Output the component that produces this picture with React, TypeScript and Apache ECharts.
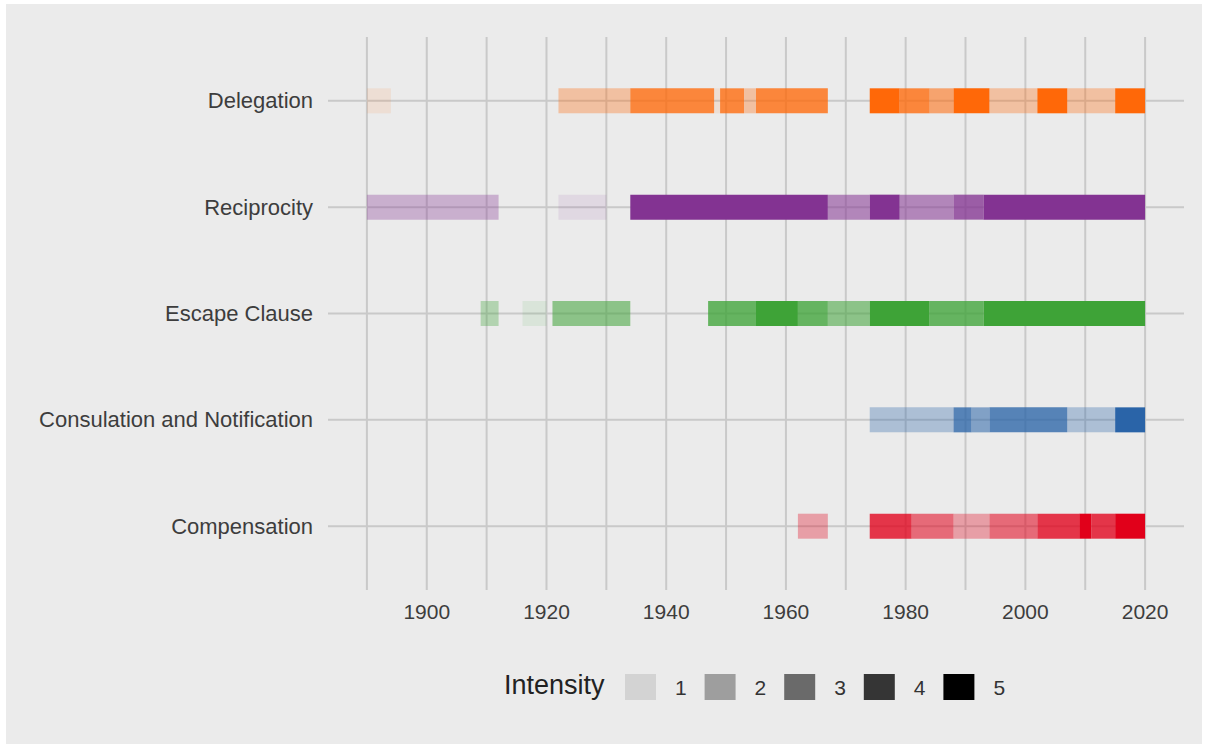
import React, { useEffect, useRef } from "react";
import * as echarts from "echarts";

// Categories, bottom to top (value 1..5 on the y axis)
const categories = [
  "Compensation",
  "Consulation and Notification",
  "Escape Clause",
  "Reciprocity",
  "Delegation",
];

const xTicks = [1900, 1920, 1940, 1960, 1980, 2000, 2020];
const gridYears = [1890, 1900, 1910, 1920, 1930, 1940, 1950, 1960, 1970, 1980, 1990, 2000, 2010, 2020];
const intensityLevels = [1, 2, 3, 4, 5];

// [start, end, intensity]
const compensation = [
  [1962, 1967, 2], [1974, 1981, 4], [1981, 1988, 3], [1988, 1994, 2], [1994, 2002, 3],
  [2002, 2009, 4], [2009, 2011, 5], [2011, 2015, 4], [2015, 2020, 5],
];
const consultation = [
  [1974, 1988, 2], [1988, 1991, 4], [1991, 1994, 3], [1994, 2007, 4], [2007, 2015, 2], [2015, 2020, 5],
];
const escapeClause = [
  [1909, 1912, 2], [1916, 1920, 1], [1921, 1934, 3], [1947, 1955, 4], [1955, 1962, 5],
  [1962, 1967, 4], [1967, 1974, 3], [1974, 1984, 5], [1984, 1993, 4], [1993, 2020, 5],
];
const reciprocity = [
  [1890, 1912, 2], [1922, 1930, 1], [1934, 1967, 5], [1967, 1974, 3], [1974, 1979, 5],
  [1979, 1988, 3], [1988, 1993, 4], [1993, 2020, 5],
];
const delegation = [
  [1890, 1894, 1], [1922, 1934, 2], [1934, 1948, 4], [1948, 1949, 1], [1949, 1953, 4],
  [1953, 1955, 2], [1955, 1967, 4], [1974, 1979, 5], [1979, 1984, 4], [1984, 1988, 3],
  [1988, 1994, 5], [1994, 2002, 2], [2002, 2007, 5], [2007, 2015, 2], [2015, 2020, 5],
];

const segmentsByCategory = [compensation, consultation, escapeClause, reciprocity, delegation];
const baseColors = [
  [225, 0, 26],
  [42, 100, 168],
  [62, 163, 55],
  [131, 51, 146],
  [255, 104, 8],
];

const alphaFor = (lvl: number) => 0.1 + ((lvl - 1) / 4) * 0.9;
const FONT = "'Liberation Sans', Arial, Helvetica, sans-serif";

export default function App() {
  const ref = useRef<HTMLDivElement>(null);

  useEffect(() => {
    document.body.style.margin = "0";
    if (!ref.current) return;
    const chart = echarts.init(ref.current, undefined, { renderer: "svg" });

    const barData: number[][] = [];
    segmentsByCategory.forEach((segs, ci) => {
      segs.forEach((s) => barData.push([s[0], s[1], ci + 1, s[2]]));
    });

    const keyX0 = 625;
    const keyStep = 79.6;
    const legendGraphics: any[] = [
      {
        type: "text",
        left: 504,
        top: 671,
        style: { text: "Intensity", font: `27px ${FONT}`, fill: "#222" },
      },
    ];
    intensityLevels.forEach((lvl, i) => {
      legendGraphics.push({
        type: "rect",
        shape: { x: keyX0 + i * keyStep, y: 674, width: 31, height: 26 },
        style: { fill: `rgba(0,0,0,${alphaFor(lvl)})` },
      });
      legendGraphics.push({
        type: "text",
        x: keyX0 + i * keyStep + 50,
        y: 687,
        style: {
          text: String(lvl),
          font: `21px ${FONT}`,
          fill: "#333",
          verticalAlign: "middle",
          align: "left",
        },
      });
    });

    chart.setOption({
      animation: false,
      backgroundColor: "transparent",
      grid: { left: 328, right: 24, top: 37, bottom: 158, containLabel: false },
      xAxis: {
        type: "value",
        min: 1883.5,
        max: 2026.5,
        axisLine: { show: false },
        axisTick: { show: false },
        splitLine: { show: false },
        axisLabel: {
          customValues: xTicks,
          formatter: (v: number) => String(v),
          fontSize: 21,
          fontFamily: FONT,
          color: "#3d3d3d",
          margin: 11,
        },
      },
      yAxis: {
        type: "value",
        min: 0.4,
        max: 5.6,
        axisLine: { show: false },
        axisTick: { show: false },
        splitLine: { show: false },
        axisLabel: {
          customValues: [1, 2, 3, 4, 5],
          formatter: (v: number) => categories[Math.round(v) - 1] || "",
          fontSize: 22,
          fontFamily: FONT,
          color: "#3d3d3d",
          margin: 15,
        },
      },
      graphic: legendGraphics,
      series: [
        {
          type: "custom",
          name: "vgrid",
          silent: true,
          z: 1,
          data: gridYears.map((y) => [y, 1]),
          encode: { x: 0, y: 1 },
          renderItem: (params: any, api: any) => {
            const cs = params.coordSys;
            const p = api.coord([api.value(0), 1]);
            return {
              type: "line",
              shape: { x1: p[0], y1: cs.y, x2: p[0], y2: cs.y + cs.height },
              style: { stroke: "#c9c9c9", lineWidth: 2 },
            };
          },
        },
        {
          type: "custom",
          name: "hgrid",
          silent: true,
          z: 1,
          data: categories.map((_, i) => [1900, i + 1]),
          encode: { x: 0, y: 1 },
          renderItem: (params: any, api: any) => {
            const cs = params.coordSys;
            const p = api.coord([1900, api.value(1)]);
            return {
              type: "line",
              shape: { x1: cs.x, y1: p[1], x2: cs.x + cs.width, y2: p[1] },
              style: { stroke: "#c9c9c9", lineWidth: 2 },
            };
          },
        },
        {
          type: "custom",
          name: "segments",
          z: 2,
          data: barData,
          encode: { x: [0, 1], y: 2 },
          renderItem: (params: any, api: any) => {
            const ci = Math.round(api.value(2)) - 1;
            const lvl = api.value(3);
            const s = api.coord([api.value(0), api.value(2)]);
            const e = api.coord([api.value(1), api.value(2)]);
            const h = 25;
            const c = baseColors[ci];
            return {
              type: "rect",
              shape: { x: s[0], y: s[1] - h / 2, width: e[0] - s[0], height: h },
              style: { fill: `rgba(${c[0]},${c[1]},${c[2]},${alphaFor(lvl)})` },
            };
          },
        },
      ],
    });

    return () => chart.dispose();
  }, []);

  return (
    <div style={{ position: "relative", width: 1208, height: 748, background: "#ffffff" }}>
      <div
        style={{
          position: "absolute",
          left: 6,
          top: 4,
          width: 1196,
          height: 740,
          background: "#ebebeb",
        }}
      />
      <div ref={ref} style={{ position: "absolute", left: 0, top: 0, width: 1208, height: 748 }} />
    </div>
  );
}
